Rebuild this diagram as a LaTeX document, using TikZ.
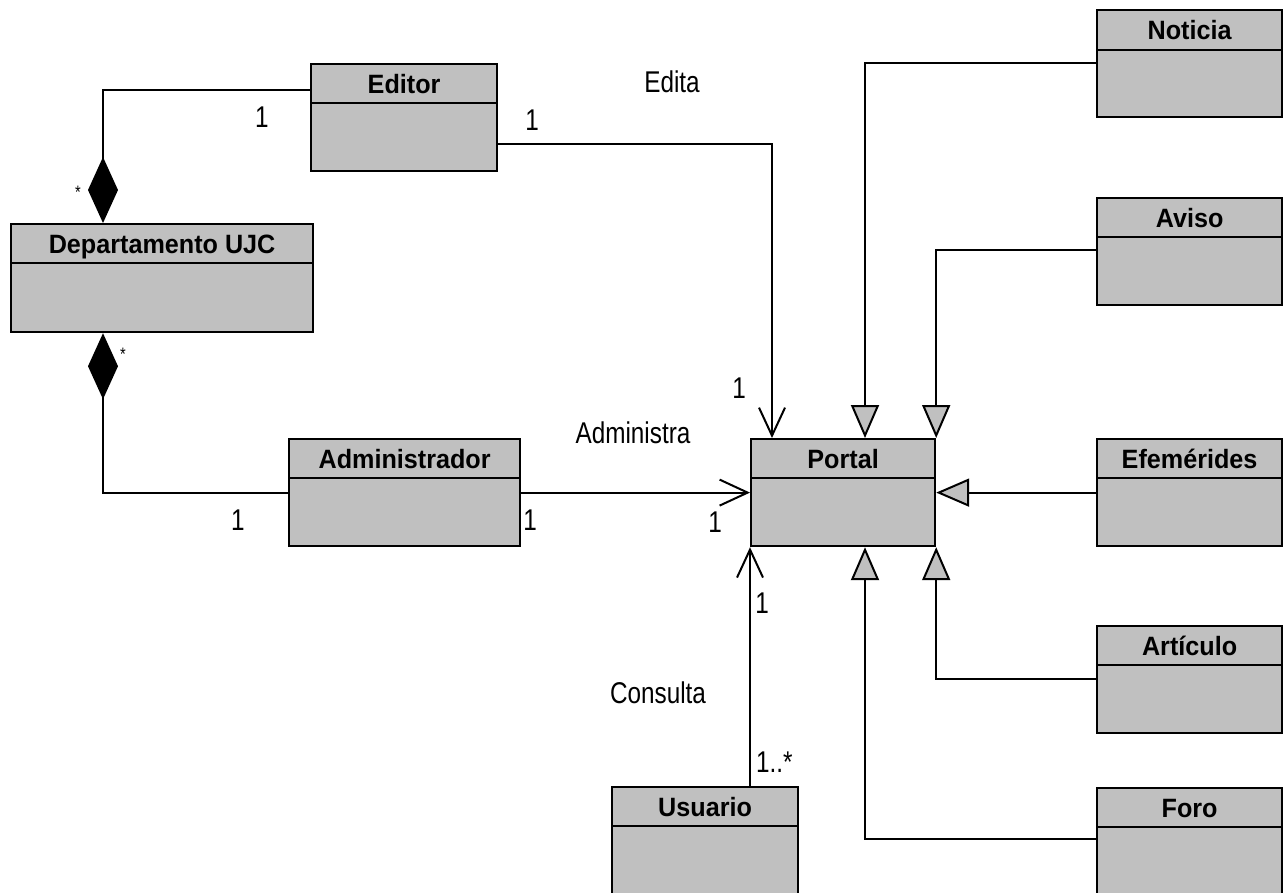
\documentclass[tikz,border=0pt]{standalone}
\usepackage{fontspec}
\setmainfont{Liberation Sans}
\newfontfamily\clsfont[FakeStretch=0.95]{Liberation Sans}
\newfontfamily\lblfont[FakeStretch=0.81]{Liberation Sans}
\usetikzlibrary{arrows.meta}
\definecolor{boxgray}{RGB}{192,192,192}
\tikzset{
  clsbox/.style={draw, fill=boxgray, line width=2.2pt, anchor=north west, inner sep=0pt, minimum height=107pt},
  clsname/.style={font=\clsfont\bfseries\fontsize{26.5}{28}\selectfont, inner sep=0pt, anchor=base},
  divider/.style={line width=2.2pt},
  lbl/.style={font=\lblfont\fontsize{30}{32}\selectfont, inner sep=0pt},
  smallstar/.style={font=\lblfont\fontsize{18}{20}\selectfont, inner sep=0pt},
  assoc/.style={-{Straight Barb[length=28pt,width=26pt]}},
  gen/.style={-{Triangle[length=33pt,width=28pt,fill=boxgray]}},
  comp/.style={-{Diamond[length=66pt,width=30pt]}}
}
\begin{document}
\begin{tikzpicture}[x=1pt,y=-1pt,line width=2pt]
\useasboundingbox (0,0) rectangle (1287,892);
\node[clsbox, minimum width=186pt] (editor) at (310,63) {};
\node[clsbox, minimum width=302pt, minimum height=108pt] (dept) at (10,223) {};
\node[clsbox, minimum width=231pt] (admin) at (288,438) {};
\node[clsbox, minimum width=184pt] (portal) at (750,438) {};
\node[clsbox, minimum width=186pt] (usuario) at (611,786) {};
\node[clsbox, minimum width=185pt] (noticia) at (1096,9) {};
\node[clsbox, minimum width=185pt] (aviso) at (1096,197) {};
\node[clsbox, minimum width=185pt] (efem) at (1096,438) {};
\node[clsbox, minimum width=185pt] (articulo) at (1096,625) {};
\node[clsbox, minimum width=185pt] (foro) at (1096,787) {};
\draw[divider] ([yshift=-40pt]editor.north west) -- ([yshift=-40pt]editor.north east);
\draw[divider] ([yshift=-40pt]dept.north west) -- ([yshift=-40pt]dept.north east);
\draw[divider] ([yshift=-40pt]admin.north west) -- ([yshift=-40pt]admin.north east);
\draw[divider] ([yshift=-40pt]portal.north west) -- ([yshift=-40pt]portal.north east);
\draw[divider] ([yshift=-40pt]usuario.north west) -- ([yshift=-40pt]usuario.north east);
\draw[divider] ([yshift=-41pt]noticia.north west) -- ([yshift=-41pt]noticia.north east);
\draw[divider] ([yshift=-40pt]aviso.north west) -- ([yshift=-40pt]aviso.north east);
\draw[divider] ([yshift=-40pt]efem.north west) -- ([yshift=-40pt]efem.north east);
\draw[divider] ([yshift=-40pt]articulo.north west) -- ([yshift=-40pt]articulo.north east);
\draw[divider] ([yshift=-40pt]foro.north west) -- ([yshift=-40pt]foro.north east);
\node[clsname] (editor-name) at ([yshift=-30pt]editor.north) {Editor};
\node[clsname] (dept-name) at ([yshift=-30pt]dept.north) {Departamento UJC};
\node[clsname] (admin-name) at ([yshift=-30pt]admin.north) {Administrador};
\node[clsname] (portal-name) at ([yshift=-30pt]portal.north) {Portal};
\node[clsname] (usuario-name) at ([yshift=-30pt]usuario.north) {Usuario};
\node[clsname] (noticia-name) at ([yshift=-30pt]noticia.north) {Noticia};
\node[clsname] (aviso-name) at ([yshift=-30pt]aviso.north) {Aviso};
\node[clsname] (efem-name) at ([yshift=-30pt]efem.north) {Efemérides};
\node[clsname] (articulo-name) at ([yshift=-30pt]articulo.north) {Artículo};
\node[clsname] (foro-name) at ([yshift=-30pt]foro.north) {Foro};
\draw[comp] ([yshift=-27pt]editor.north west) -| ([xshift=93pt]dept.north west);
\draw[comp] (admin.west) -| ([xshift=93pt]dept.south west);
\draw[assoc] ([yshift=-26.5pt]editor.east) -| ([xshift=22pt]portal.north west);
\draw[assoc] (admin.east) -- (portal.west);
\draw[assoc] (portal.south west |- usuario.north) -- (portal.south west);
\draw[gen] ([yshift=-54pt]noticia.north west) -| ([xshift=115pt]portal.north west);
\draw[gen] ([yshift=-53pt]aviso.north west) -| (portal.north east);
\draw[gen] (efem.west) -- (portal.east);
\draw[gen] ([yshift=-54pt]articulo.north west) -| (portal.south east);
\draw[gen] ([yshift=-52pt]foro.north west) -| ([xshift=115pt]portal.south west);
\node[lbl] (m-ed-dept) at (262,117) {1};
\node[smallstar] (m-dept-ed) at (78,192) {*};
\node[smallstar] (m-dept-adm) at (123,354) {*};
\node[lbl] (m-adm-dept) at (238,520) {1};
\node[lbl] (edita) at (672,82) {Edita};
\node[lbl] (m-ed-port) at (532,120) {1};
\node[lbl] (m-port-ed) at (739,388) {1};
\node[lbl] (administra) at (633,433) {Administra};
\node[lbl] (m-adm-port) at (530,520) {1};
\node[lbl] (m-port-adm) at (715,522) {1};
\node[lbl] (m-port-us) at (762,603) {1};
\node[lbl] (consulta) at (658,693) {Consulta};
\node[lbl, anchor=west] (m-us-port) at (755,762) {1..*};
\end{tikzpicture}
\end{document}
